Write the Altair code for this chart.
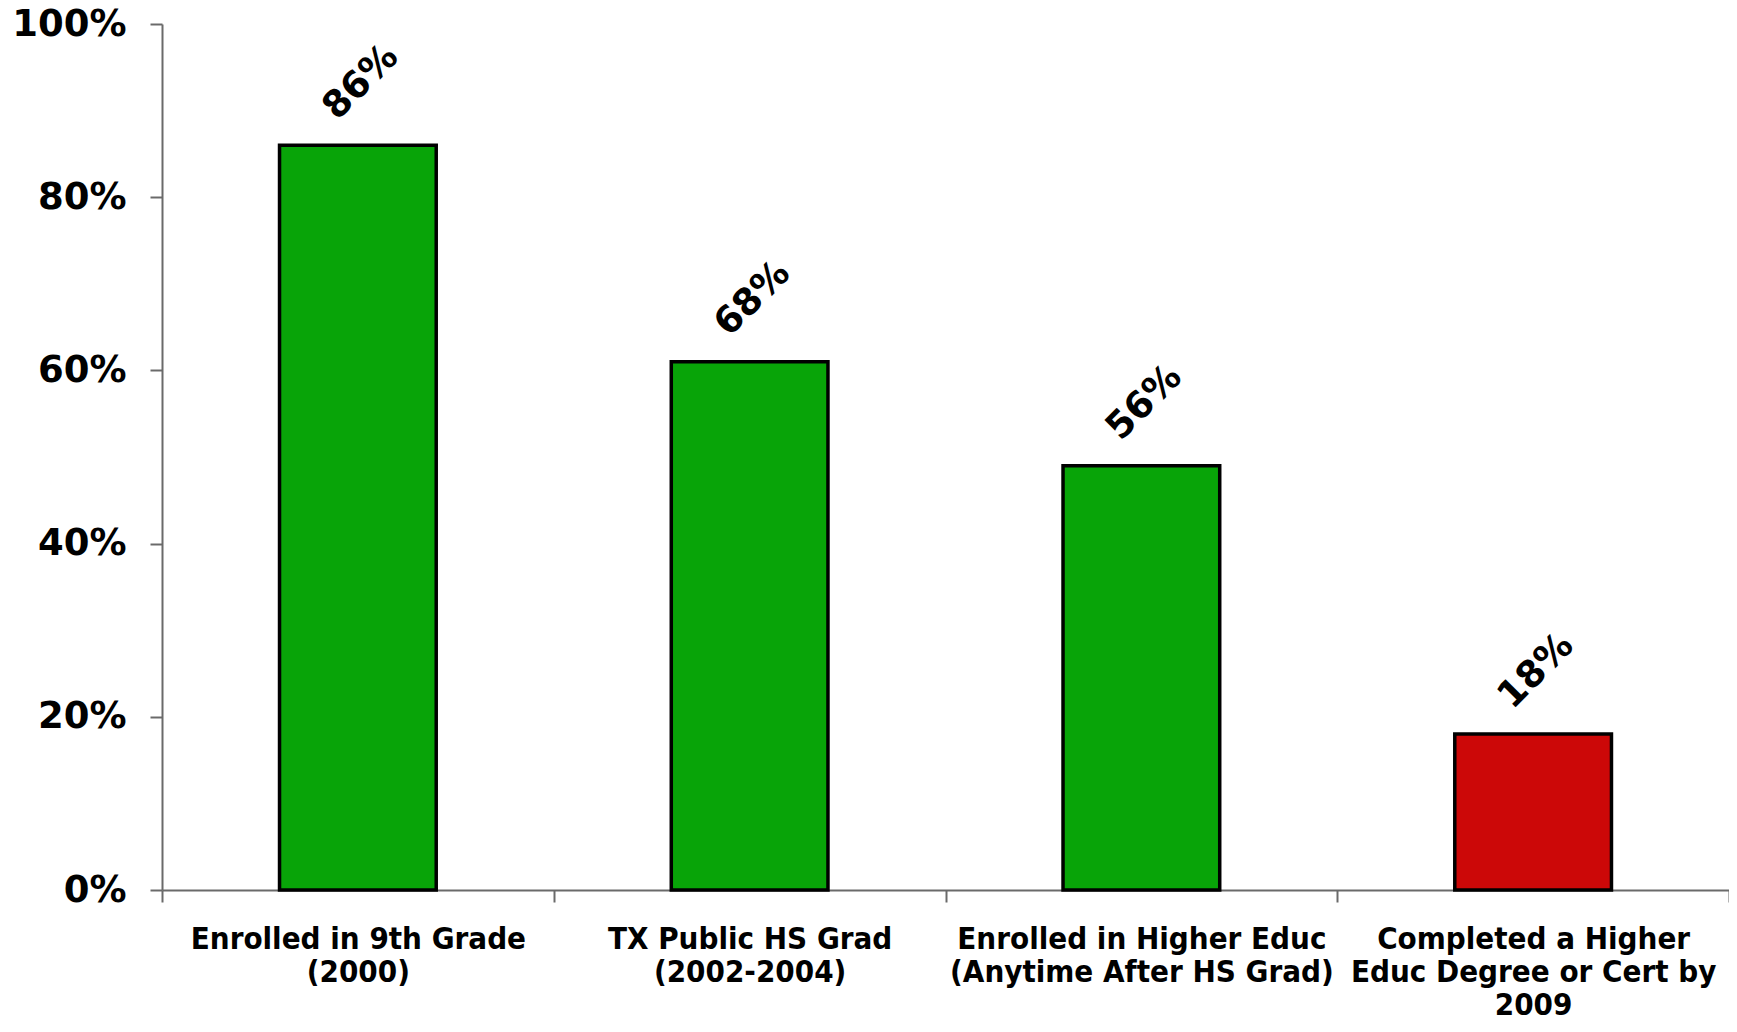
import altair as alt
import pandas as pd

categories = [
    "Enrolled in 9th Grade\n(2000)",
    "TX Public HS Grad\n(2002-2004)",
    "Enrolled in Higher Educ\n(Anytime After HS Grad)",
    "Completed a Higher\nEduc Degree or Cert by\n2009",
]
bar_values = [0.86, 0.61, 0.49, 0.18]
label_texts = ["86%", "68%", "56%", "18%"]
bar_colors = ["#08A408", "#08A408", "#08A408", "#CC0808"]
y_ticks = [0, 0.2, 0.4, 0.6, 0.8, 1.0]

df = pd.DataFrame({
    "category": categories,
    "value": bar_values,
    "label": label_texts,
    "color": bar_colors,
})

axis_gray = "#6a6a6a"

x = alt.X(
    "category:N",
    sort=categories,
    scale=alt.Scale(paddingInner=0, paddingOuter=0),
    axis=alt.Axis(
        title=None,
        labelAngle=0,
        labelExpr="split(datum.label, '\\n')",
        tickBand="extent",
        labelFont="DejaVu Sans Condensed, DejaVu Sans",
        labelFontSize=31,
        labelFontWeight="bold",
        labelColor="black",
        labelLineHeight=33,
        labelBaseline="alphabetic",
        labelPadding=46,
        labelLimit=600,
        labelOverlap=False,
        tickSize=12,
        tickWidth=2,
        domainWidth=2,
        tickColor=axis_gray,
        domainColor=axis_gray,
    ),
)

y = alt.Y(
    "value:Q",
    scale=alt.Scale(domain=[0, 1], nice=False),
    axis=alt.Axis(
        title=None,
        format=".0%",
        values=y_ticks,
        grid=False,
        labelFont="DejaVu Sans",
        labelFontSize=37,
        labelFontWeight="bold",
        labelColor="black",
        labelPadding=24,
        tickSize=12,
        tickWidth=2,
        domainWidth=2,
        tickColor=axis_gray,
        domainColor=axis_gray,
    ),
)

bars = alt.Chart(df).mark_bar(
    stroke="black", strokeWidth=3.5, width=alt.RelativeBandSize(0.4)
).encode(
    x=x,
    y=y,
    color=alt.Color("color:N", scale=None),
)

labels = alt.Chart(df).mark_text(
    angle=315,
    font="DejaVu Sans",
    fontSize=37,
    fontWeight="bold",
    color="black",
    align="center",
    baseline="middle",
    yOffset=-63,
    xOffset=3,
).encode(
    x=x,
    y=y,
    text="label:N",
)

chart = (
    alt.layer(bars, labels)
    .properties(
        width=1567,
        height=866,
        autosize=alt.AutoSizeParams(type="none"),
        padding={"left": 154, "top": 16, "right": 0, "bottom": 128},
        background="white",
    )
    .configure_view(stroke=None)
)

chart.save("out.html", embed_options={"renderer": "svg", "actions": False})
